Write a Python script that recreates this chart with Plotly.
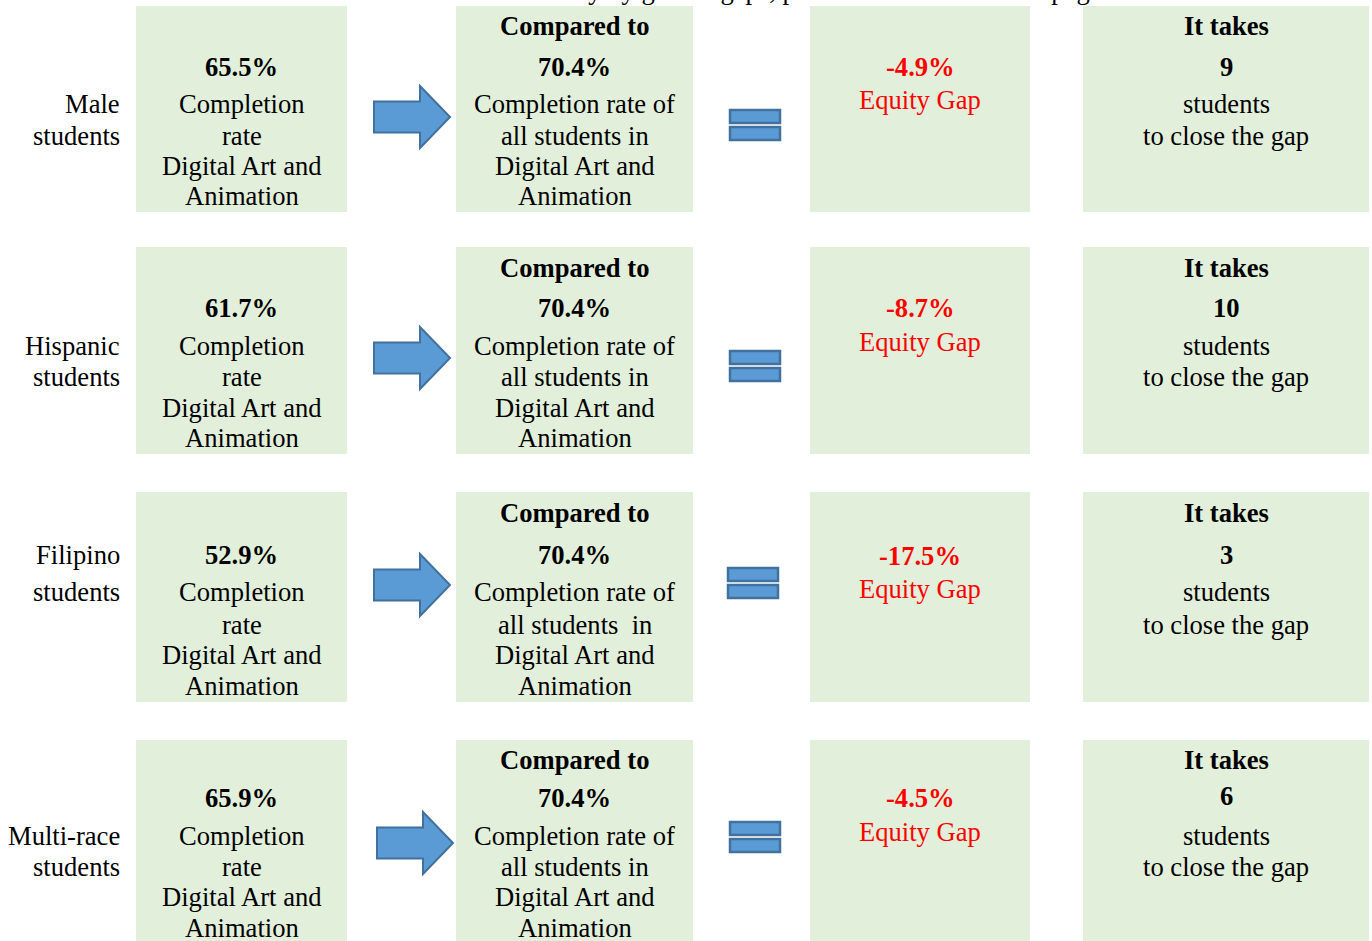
import plotly.graph_objects as go

# ---------------- data ----------------
group_line1 = ["Male", "Hispanic", "Filipino", "Multi-race"]
group_line2 = ["students", "students", "students", "students"]
group_rates = [65.5, 61.7, 52.9, 65.9]
overall_rates = [70.4, 70.4, 70.4, 70.4]
equity_gaps = [-4.9, -8.7, -17.5, -4.5]
students_needed = [9, 10, 3, 6]
program = ["Digital Art and", "Animation"]
all_students_line = ["all students in", "all students in", "all students\u00a0 in", "all students in"]
note_text = "For the detail of numbers of students and their ethnicity by gender gaps, please refer to table 1 on page 3."

# ---------------- layout constants ----------------
W, H = 1372, 941
FONT = "Liberation Serif"
FS = 26.6
BOX_FILL = "#E2EFDA"
BLUE = "#5B9BD5"
BLUE_EDGE = "#41719C"
RED = "#FF0000"

cols = [(136, 347), (456, 693), (810, 1030), (1083, 1369)]
rows = [
    dict(top=6, bot=212, A=26, B=67, C=104, D=136, E=166, F=196, gp=67, gl=100, n1=104, n2=136, num=67,
         arrow=(412, 117), eq=(755, 125)),
    dict(top=247, bot=454, A=268, B=308, C=346, D=377, E=408, F=438, gp=308, gl=342, n1=346, n2=377, num=308,
         arrow=(412, 358), eq=(755, 366)),
    dict(top=492, bot=702, A=513, B=555, C=592, D=625, E=655, F=686, gp=556, gl=589, n1=555, n2=592, num=555,
         arrow=(412, 585), eq=(753, 583)),
    dict(top=740, bot=941, A=760, B=798, C=836, D=867, E=897, F=928, gp=798, gl=832, n1=836, n2=867, num=796,
         arrow=(415, 843), eq=(755, 837)),
]

fig = go.Figure()
fig.add_trace(go.Scatter(x=[0, W], y=[0, H], mode="markers", marker=dict(opacity=0), hoverinfo="skip",
                         showlegend=False))

shapes = []
annotations = []


def txt(x, y, s, bold=False, color="#000000", xanchor="center"):
    if bold:
        s = "<b>" + s + "</b>"
    annotations.append(dict(x=x, y=y, xref="x", yref="y", text=s, showarrow=False,
                            xanchor=xanchor, yanchor="middle",
                            font=dict(family=FONT, size=FS, color=color)))


for i, r in enumerate(rows):
    for (x0, x1) in cols:
        shapes.append(dict(type="rect", xref="x", yref="y", x0=x0, x1=x1, y0=r["top"], y1=r["bot"],
                           fillcolor=BOX_FILL, line=dict(width=0), layer="below"))
    # arrow
    cx, cy = r["arrow"]
    L, Hh, bh, bl = 76, 62, 31, 46
    xa = cx - L / 2
    path = (f"M {xa},{cy - bh/2} L {xa + bl},{cy - bh/2} L {xa + bl},{cy - Hh/2} L {xa + L},{cy} "
            f"L {xa + bl},{cy + Hh/2} L {xa + bl},{cy + bh/2} L {xa},{cy + bh/2} Z")
    shapes.append(dict(type="path", xref="x", yref="y", path=path, fillcolor=BLUE,
                       line=dict(color=BLUE_EDGE, width=2)))
    # equals sign
    ex, ey = r["eq"]
    shapes.append(dict(type="rect", xref="x", yref="y", x0=ex - 25, x1=ex + 25, y0=ey - 15, y1=ey - 2,
                       fillcolor=BLUE, line=dict(color=BLUE_EDGE, width=2.5)))
    shapes.append(dict(type="rect", xref="x", yref="y", x0=ex - 25, x1=ex + 25, y0=ey + 2, y1=ey + 15,
                       fillcolor=BLUE, line=dict(color=BLUE_EDGE, width=2.5)))

    # group label
    txt(122, r["n1"], group_line1[i], xanchor="right")
    txt(122, r["n2"], group_line2[i], xanchor="right")

    # column 1
    c1 = (cols[0][0] + cols[0][1]) / 2
    txt(c1, r["B"], f"{group_rates[i]:.1f}%", bold=True)
    txt(c1, r["C"], "Completion")
    txt(c1, r["D"], "rate")
    txt(c1, r["E"], program[0])
    txt(c1, r["F"], program[1])

    # column 2
    c2 = (cols[1][0] + cols[1][1]) / 2
    txt(c2, r["A"], "Compared to", bold=True)
    txt(c2, r["B"], f"{overall_rates[i]:.1f}%", bold=True)
    txt(c2, r["C"], "Completion rate of")
    txt(c2, r["D"], all_students_line[i])
    txt(c2, r["E"], program[0])
    txt(c2, r["F"], program[1])

    # column 3
    c3 = (cols[2][0] + cols[2][1]) / 2
    txt(c3, r["gp"], f"{equity_gaps[i]:.1f}%", bold=True, color=RED)
    txt(c3, r["gl"], "Equity Gap", color=RED)

    # column 4
    c4 = (cols[3][0] + cols[3][1]) / 2
    txt(c4, r["A"], "It takes", bold=True)
    txt(c4, r["num"], str(students_needed[i]), bold=True)
    txt(c4, r["C"], "students")
    txt(c4, r["D"], "to close the gap")

# note line at the very top, mostly cut off by the page edge (as in the reference)
annotations.append(dict(x=8 / W, y=1 + 10 / H, xref="paper", yref="paper", text=note_text, showarrow=False,
                        xanchor="left", yanchor="middle",
                        font=dict(family=FONT, size=FS, color="#000000")))

fig.update_layout(
    width=W, height=H,
    margin=dict(l=0, r=0, t=0, b=0),
    paper_bgcolor="white", plot_bgcolor="white",
    xaxis=dict(range=[0, W], visible=False, fixedrange=True),
    yaxis=dict(range=[H, 0], visible=False, fixedrange=True),
    shapes=shapes, annotations=annotations, showlegend=False,
)

fig.write_html("out.html", config={"displayModeBar": False},
               post_script="document.body.style.margin='0px';")
